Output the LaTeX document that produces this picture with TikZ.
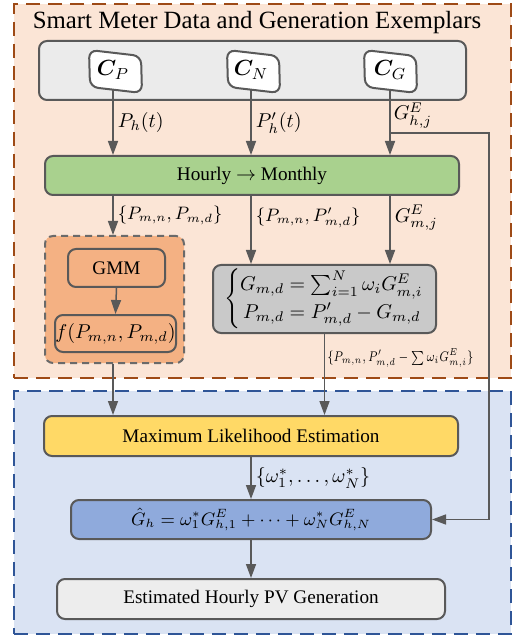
\documentclass[tikz,border=0pt]{standalone}
\usepackage{amsmath}
\usepackage{bm}
\usepackage{graphicx}
\usepackage{fontspec}
\setmainfont{Liberation Serif}
\usetikzlibrary{arrows.meta,fit,calc}
\definecolor{peach}{HTML}{FBE5D6}
\definecolor{brownb}{HTML}{9E4A16}
\definecolor{bluef}{HTML}{DAE3F3}
\definecolor{blueb}{HTML}{2F5597}
\definecolor{dg}{HTML}{595959}
\definecolor{lgray}{HTML}{EBEBEB}
\definecolor{greenf}{HTML}{A9D18E}
\definecolor{orangef}{HTML}{F4B183}
\definecolor{eqgray}{HTML}{C9C9C9}
\definecolor{yellowf}{HTML}{FFD966}
\definecolor{bluebox}{HTML}{8FAADC}
\definecolor{estf}{HTML}{EDEDED}
\tikzset{
  region/.style={line width=1.2pt, dash pattern=on 7pt off 4pt, inner sep=0pt},
  box/.style={draw=dg, line width=1pt, rounded corners=4pt, inner sep=0pt},
  arr/.style={draw=dg, line width=0.75pt, -{Triangle[length=7pt,width=5pt]}},
  cshape/.style={draw=dg, fill=white, line width=1pt, rounded corners=4pt},
  cnode/.style={minimum height=20pt, inner sep=0pt, font=\fontsize{11}{13}\selectfont},
  lab/.style={right, inner sep=2pt},
  blab/.style={right, inner sep=2pt, font=\fontsize{8.8}{10}\selectfont},
}
\begin{document}
\begin{tikzpicture}[x=0.5pt,y=-0.5pt,font=\fontsize{9.6}{11.5}\selectfont]
\useasboundingbox (0,0) rectangle (515,640);
% regions
\node[region, draw=brownb, fill=peach, fit={(14,4)(511,378)}] (top) {};
\node[region, draw=blueb, fill=bluef, fit={(14,391)(511,634)}] (bot) {};
\node[font=\fontsize{12.4}{14}\selectfont] (title) at (257,23) {Smart Meter Data and Generation Exemplars};
% source box
\node[box, fill=lgray, fit={(39,41)(466,100)}] (src) {};
% C cards
\draw[cshape] (113-24,50) -- (113+28,56) -- (113+29,93) -- (113-23,87) -- cycle;
\node[cnode] (cP) at (113,70) {$\bm{C}_P$};
\draw[cshape] (251-24,50) -- (251+28,56) -- (251+29,93) -- (251-23,87) -- cycle;
\node[cnode] (cN) at (251,70) {$\bm{C}_N$};
\draw[cshape] (390-26,50) -- (390+26,56) -- (390+27,93) -- (390-25,87) -- cycle;
\node[cnode] (cG) at (390,70) {$\bm{C}_G$};
% hourly -> monthly
\node[box, fill=greenf, fit={(45,156)(459,195)}, label={center:Hourly $\rightarrow$ Monthly}] (hm) {};
\draw[arr] (cP.south) -- node[lab, midway] {$P_h(t)$} (cP.south |- hm.north);
\draw[arr] (cN.south) -- node[lab, midway] {$P_h^{\prime}(t)$} (cN.south |- hm.north);
\draw[arr] (cG.south) -- node[anchor=south west, pos=0.64, inner sep=1.5pt] {$G^E_{h,j}$} (cG.south |- hm.north);
% GMM group
\node[box, draw=dg!90, fill=orangef, dash pattern=on 3.5pt off 2.5pt, fit={(45,236)(184,363)}] (grp) {};
\node[box, fill=orangef, fit={(68,249)(165,287)}, label={center:GMM}] (gmm) {};
\node[box, fill=orangef, fit={(55,315)(176,352)}, label={center:$f(P_{m,n},P_{m,d})$}] (fpd) {};
\draw[arr] (gmm.south) -- (fpd.north);
% equation box
\node[box, fill=eqgray, fit={(213,265)(436,333)}, label={center:$\left\{\begin{aligned} G_{m,d} &= \textstyle\sum_{i=1}^{N}\omega_i G^E_{m,i}\\[-2pt] P_{m,d} &= P^{\prime}_{m,d} - G_{m,d}\end{aligned}\right.$}] (eq) {};
\draw[arr] (hm.south -| cP) -- node[blab, midway] {$\{P_{m,n},P_{m,d}\}$} (grp.north -| cP);
\draw[arr] (hm.south -| cN) -- node[blab, pos=0.32] {$\{P_{m,n},P^{\prime}_{m,d}\}$} (eq.north -| cN);
\draw[arr] (hm.south -| cG) -- node[lab, pos=0.32] {$G^E_{m,j}$} (eq.north -| cG);
% MLE
\node[box, fill=yellowf, fit={(44,416)(458,456)}, label={center:Maximum Likelihood Estimation}] (mle) {};
\draw[arr] (grp.south -| cP) -- (mle.north -| cP);
\draw[arr] (eq.south) -- node[lab, pos=0.3, inner sep=1pt, font=\fontsize{7}{8}\selectfont] {\scalebox{0.78}[1]{$\{P_{m,n},P^{\prime}_{m,d}-\sum\omega_i G^E_{m,i}\}$}} (eq.south |- mle.north);
% G hat
\node[box, fill=bluebox, fit={(71,500)(431,539)}, label={[font=\fontsize{9}{11}\selectfont]center:$\hat{G}_h=\omega_1^{*}G^E_{h,1}+\cdots+\omega_N^{*}G^E_{h,N}$}] (gh) {};
\draw[arr] (mle.south) -- node[lab, midway] {$\{\omega_1^{*},\ldots,\omega_N^{*}\}$} (gh.north);
\coordinate (br) at (489,133);
\draw[arr] (cG.south |- br) -- (br) |- (gh.east);
% estimated
\node[box, fill=estf, fit={(57,579)(445,619)}, label={center:Estimated Hourly PV Generation}] (est) {};
\draw[arr] (gh.south) -- (est.north);
\end{tikzpicture}
\end{document}
